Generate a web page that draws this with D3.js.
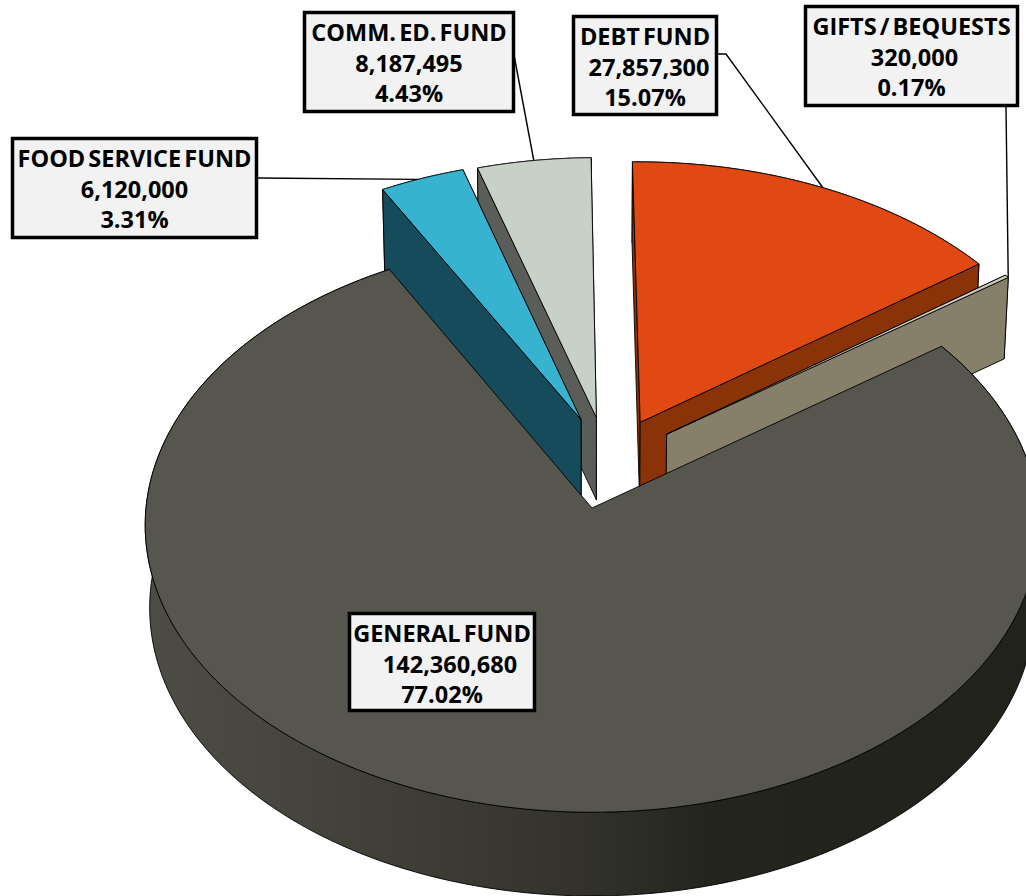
<!DOCTYPE html>
<html>
<head>
<meta charset="utf-8">
<script src="https://cdnjs.cloudflare.com/ajax/libs/d3/7.8.5/d3.min.js"></script>
<style>
  html, body { margin: 0; padding: 0; background: #fff; overflow: hidden; }
  svg { display: block; }
  text { font-family: "Open Sans", sans-serif; font-weight: 700; font-size: 23.5px; word-spacing: -3px; fill: #000; }
</style>
</head>
<body>
<svg id="chart" width="1026" height="896"></svg>
<script>
// slices in drawing order round the pie, clockwise from the top
const names = ['DEBT FUND', 'GIFTS / BEQUESTS', 'GENERAL FUND', 'FOOD SERVICE FUND', 'COMM. ED. FUND'];
const amounts = [27857300, 320000, 142360680, 6120000, 8187495];
const topColors = ['#e04a12', '#cfcdbf', '#57564e', '#37b3d0', '#c7d1c7'];
const wallColors = ['#8a3208', '#867f69', '#3c3b34', '#154b5a', '#5b5d58'];
// how far each slice is pulled out, in pie radii (x right, y back)
const pullX = [0.11, 0.17, 0, -0.025, 0.01];
const pullY = [0.305, 0.262, 0, 0.315, 0.322];
// label boxes: left, top, right, bottom
const boxes = [[572, 15, 718, 116], [804, 5, 1019, 107], [348, 612, 536, 712], [11, 137, 258, 239], [303, 11, 515, 113]];
const amountShift = [4, 3, 8, 0, 0];
// leader: start point on the box, optional elbow, and how far along the slice's arc it lands
const leaderFrom = [[[718, 54], [726, 54]], [[1006, 107]], null, [[258, 178]], [[514, 55]]];
const leaderAlong = [0.5, 0.98, 0, 0.45, 0.5];
const drawOrder = [4, 3, 0, 1, 2];

const cx = 592, cy = 508, a = 446, b = 286, persp = 0.06;
const scaleX = d3.scaleLinear().domain([0, 1]).range([0, a]);
const scaleY = d3.scaleLinear().domain([0, 1]).range([0, -b]);

// pie plane -> screen, with a little perspective so the back shrinks
const project = (px, py) => {
  const w = 1 + persp * py;
  return [cx + scaleX(px) / w, cy + scaleY(py) / w];
};
const drop = (px, py) => {
  const w = 1 + persp * py;
  const [x, y] = project(px, py);
  return [cx + (x - cx) * 0.99, y + 82.5 - 20 * (w - 1)];
};

const total = d3.sum(amounts);
const pie = d3.pie().sort(null).startAngle(-0.7 * Math.PI / 180).endAngle(359.3 * Math.PI / 180);
const arcs = pie(amounts);
const line = d3.line();

const svg = d3.select('#chart');
const grad = svg.append('defs').append('linearGradient')
  .attr('id', 'frontWall').attr('gradientUnits', 'userSpaceOnUse')
  .attr('x1', 145).attr('x2', 1026).attr('y1', 0).attr('y2', 0);
[[0, '#4e4d45'], [0.15, '#47463e'], [0.3, '#3e3d36'], [0.5, '#32312c'], [0.65, '#24241f'], [1, '#22221d']]
  .forEach(s => grad.append('stop').attr('offset', s[0]).attr('stop-color', s[1]));

const arcPoints = (i, fn) => {
  const s = arcs[i].startAngle, e = arcs[i].endAngle;
  return d3.range(0, 181).map(t => {
    const ang = s + (e - s) * t / 180;
    return fn(pullX[i] + Math.sin(ang), pullY[i] + Math.cos(ang));
  });
};

const pieG = svg.append('g');
drawOrder.forEach(i => {
  const g = pieG.append('g');
  const topArc = arcPoints(i, project);
  const lowArc = arcPoints(i, drop);
  const apexTop = project(pullX[i], pullY[i]);
  const apexLow = drop(pullX[i], pullY[i]);
  const isGeneral = names[i] === 'GENERAL FUND';
  const wallFill = isGeneral ? 'url(#frontWall)' : wallColors[i];
  const startFace = [apexTop, topArc[0], lowArc[0], apexLow];
  const endFace = [apexTop, topArc[180], lowArc[180], apexLow];
  const leftSide = (arcs[i].startAngle + arcs[i].endAngle) / 2 > Math.PI;
  // the face turned to the viewer goes last so the hidden one stays behind it
  const faces = isGeneral ? [] : (leftSide ? [endFace, startFace] : [startFace, endFace]);
  [topArc.concat(lowArc.slice().reverse())].concat(faces).forEach(f => g.append('path')
    .attr('d', line(f) + 'Z')
    .attr('fill', wallFill)
    .attr('stroke', '#000').attr('stroke-width', 0.9).attr('stroke-linejoin', 'round'));
  g.append('path')
    .attr('d', line([apexTop].concat(topArc)) + 'Z')
    .attr('fill', topColors[i])
    .attr('stroke', '#000').attr('stroke-width', 0.9).attr('stroke-linejoin', 'round');
});

// leader lines
leaderFrom.forEach((from, i) => {
  if (!from) return;
  const pts = arcPoints(i, project);
  const end = pts[Math.round(leaderAlong[i] * 180)];
  svg.append('path')
    .attr('d', line(from.concat([end])))
    .attr('fill', 'none').attr('stroke', '#000').attr('stroke-width', 1.4);
});

// labels
const fmt = d3.format(',');
const pct = d3.format('.2%');
names.forEach((name, i) => {
  const [x0, y0, x1, y1] = boxes[i];
  const g = svg.append('g');
  g.append('rect')
    .attr('x', x0 + 1.5).attr('y', y0 + 1.5)
    .attr('width', x1 - x0 - 3).attr('height', y1 - y0 - 3)
    .attr('fill', '#f2f2f2').attr('stroke', '#000').attr('stroke-width', 3.5);
  const mid = (x0 + x1) / 2;
  [name, fmt(amounts[i]), pct(amounts[i] / total)].forEach((t, j) => {
    g.append('text')
      .attr('x', mid + (j === 1 ? amountShift[i] : 0))
      .attr('y', y0 + 30 + j * 30.5)
      .attr('text-anchor', 'middle')
      .text(t);
  });
});
</script>
</body>
</html>
